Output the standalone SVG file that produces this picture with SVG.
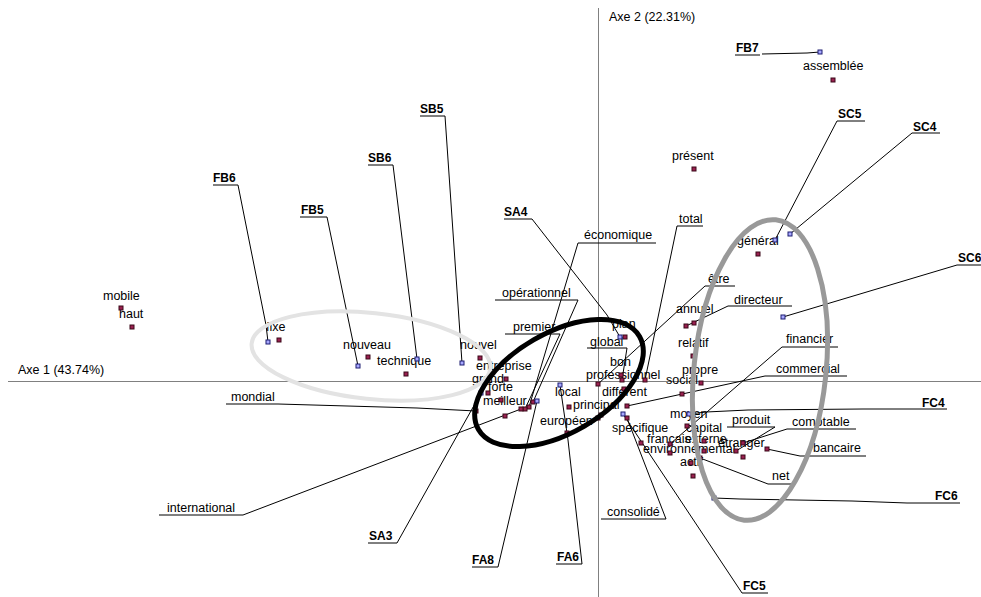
<svg xmlns="http://www.w3.org/2000/svg" width="981" height="597" viewBox="0 0 981 597">
<style>
.t{font-family:"Liberation Sans",Arial,sans-serif;font-size:12.5px;fill:#000}
.b{font-family:"Liberation Sans",Arial,sans-serif;font-size:12px;font-weight:bold;fill:#000}
.l{stroke:#000;stroke-width:1;fill:none}
.u{stroke:#000;stroke-width:1}
.ax{stroke:#808080;stroke-width:1}
.p{fill:#9a2050;stroke:#3a0818;stroke-width:1}
.c{fill:#a8a8ff;stroke:#1c1c70;stroke-width:1}
</style>
<defs>
<rect id="pw" class="p" x="-2" y="-2" width="4" height="4"/>
<rect id="pc" class="c" x="-2" y="-2" width="4" height="4"/>
</defs>
<rect width="981" height="597" fill="#fff"/>
<g id="axes">
<line class="ax" x1="8" y1="381.5" x2="981" y2="381.5"/>
<line class="ax" x1="598.5" y1="8" x2="598.5" y2="597"/>
<text class="t" x="18" y="374">Axe 1 (43.74%)</text>
<text class="t" x="609" y="21">Axe 2 (22.31%)</text>
</g>
<g id="labels">
<text class="t" x="103" y="300">mobile</text>
<text class="t" x="119" y="318">haut</text>
<text class="t" x="266" y="331">fixe</text>
<text class="t" x="343" y="349">nouveau</text>
<text class="t" x="377" y="365">technique</text>
<text class="t" x="460" y="349">nouvel</text>
<text class="t" x="476" y="370">entreprise</text>
<text class="t" x="472" y="383">grand</text>
<text class="t" x="488" y="391">forte</text>
<text class="t" x="483" y="405">meilleur</text>
<text class="t" x="555" y="396">local</text>
<text class="t" x="573" y="409">principal</text>
<text class="t" x="540" y="425">européen</text>
<text class="t" x="612" y="328">plan</text>
<text class="t" x="610" y="366">bon</text>
<text class="t" x="586" y="379">professionnel</text>
<text class="t" x="602" y="396">différent</text>
<text class="t" x="612" y="432">spécifique</text>
<text class="t" x="672" y="160">présent</text>
<text class="t" x="803" y="70">assemblée</text>
<text class="t" x="737" y="245">général</text>
<text class="t" x="676" y="313">annuel</text>
<text class="t" x="678" y="347">relatif</text>
<text class="t" x="682" y="374">propre</text>
<text class="t" x="666" y="384">social</text>
<text class="t" x="670" y="418">moyen</text>
<text class="t" x="686" y="432">capital</text>
<text class="t" x="647" y="443">français</text>
<text class="t" x="685" y="443">externe</text>
<text class="t" x="718" y="447">étranger</text>
<text class="t" x="643" y="453">environnemental</text>
<text class="t" x="680" y="466">actif</text>
<text class="t" x="584" y="239">économique</text>
<text class="t" x="502" y="297">opérationnel</text>
<text class="t" x="513" y="331">premier</text>
<text class="t" x="590" y="346">global</text>
<text class="t" x="679" y="223">total</text>
<text class="t" x="708" y="283">être</text>
<text class="t" x="734" y="304">directeur</text>
<text class="t" x="786" y="343">financier</text>
<text class="t" x="776" y="373">commercial</text>
<text class="t" x="732" y="424">produit</text>
<text class="t" x="792" y="426">comptable</text>
<text class="t" x="813" y="452">bancaire</text>
<text class="t" x="772" y="480">net</text>
<text class="t" x="607" y="516">consolidé</text>
<text class="t" x="231" y="401">mondial</text>
<text class="t" x="167" y="512">international</text>
<text class="b" x="213" y="182">FB6</text>
<text class="b" x="301" y="214">FB5</text>
<text class="b" x="368" y="162">SB6</text>
<text class="b" x="420" y="113">SB5</text>
<text class="b" x="504" y="216">SA4</text>
<text class="b" x="369" y="540">SA3</text>
<text class="b" x="472" y="564">FA8</text>
<text class="b" x="557" y="561">FA6</text>
<text class="b" x="736" y="52">FB7</text>
<text class="b" x="838" y="118">SC5</text>
<text class="b" x="913" y="131">SC4</text>
<text class="b" x="958" y="262">SC6</text>
<text class="b" x="922" y="407">FC4</text>
<text class="b" x="935" y="500">FC6</text>
<text class="b" x="743" y="590">FC5</text>
</g>
<g id="connectors">
<path class="l" d="M578 243H656M578 243L529 407"/>
<path class="l" d="M495 300H578L533 402"/>
<path class="l" d="M505 334H560L525 409"/>
<path class="l" d="M587 348H627L622 380"/>
<path class="l" d="M703 226H677L645 380"/>
<path class="l" d="M735 286H705L598 384"/>
<path class="l" d="M792 306H728L686 326"/>
<path class="l" d="M838 347H782L670 444"/>
<path class="l" d="M847 376H765L627 406"/>
<path class="l" d="M727 427H775L736 451"/>
<path class="l" d="M856 429H787L743 443"/>
<path class="l" d="M866 456H800L767 449"/>
<path class="l" d="M793 484H768L700 458"/>
<path class="l" d="M601 519H666L627 418"/>
<path class="l" d="M226 404H278L417 408L476 411"/>
<path class="l" d="M159 515H243L521 409"/>
<path class="l" d="M213 185H238L266 325L268 342"/>
<path class="l" d="M300 217H327L358 366"/>
<path class="l" d="M368 165H393L417 359"/>
<path class="l" d="M420 116H445L462 363"/>
<path class="l" d="M504 219H532L607 315L620 337"/>
<path class="l" d="M368 543H397L481 393"/>
<path class="l" d="M472 567H498L537 401"/>
<path class="l" d="M556 564H582L568 440L560 385"/>
<path class="l" d="M735 55H760M762 54L807 53L820 52"/>
<path class="l" d="M865 121H837L775 240"/>
<path class="l" d="M940 133H912L790 234"/>
<path class="l" d="M981 265H957L783 317"/>
<path class="l" d="M947 409H863L748 410L706 412L689 414"/>
<path class="l" d="M960 503H907L852 501L740 499L714 498"/>
<path class="l" d="M768 593H742L623 414"/>
</g>
<g id="words">
<use href="#pw" x="121" y="308"/><use href="#pw" x="132" y="327"/><use href="#pw" x="279" y="340"/>
<use href="#pw" x="368" y="357"/><use href="#pw" x="406" y="374"/><use href="#pw" x="480" y="358"/>
<use href="#pw" x="506" y="379"/><use href="#pw" x="488" y="393"/><use href="#pw" x="501" y="400"/>
<use href="#pw" x="505" y="416"/><use href="#pw" x="569" y="407"/><use href="#pw" x="598" y="418"/>
<use href="#pw" x="601" y="415"/><use href="#pw" x="567" y="433"/><use href="#pw" x="625" y="337"/>
<use href="#pw" x="621" y="375"/><use href="#pw" x="624" y="389"/><use href="#pw" x="627" y="406"/>
<use href="#pw" x="641" y="443"/><use href="#pw" x="694" y="169"/><use href="#pw" x="833" y="80"/>
<use href="#pw" x="758" y="254"/><use href="#pw" x="694" y="323"/><use href="#pw" x="693" y="356"/>
<use href="#pw" x="701" y="383"/><use href="#pw" x="682" y="394"/><use href="#pw" x="687" y="426"/>
<use href="#pw" x="704" y="441"/><use href="#pw" x="670" y="453"/><use href="#pw" x="704" y="451"/>
<use href="#pw" x="743" y="457"/><use href="#pw" x="691" y="463"/><use href="#pw" x="693" y="476"/>
<use href="#pw" x="529" y="407"/><use href="#pw" x="533" y="402"/><use href="#pw" x="525" y="409"/>
<use href="#pw" x="622" y="380"/><use href="#pw" x="645" y="380"/><use href="#pw" x="598" y="384"/>
<use href="#pw" x="686" y="326"/><use href="#pw" x="670" y="444"/><use href="#pw" x="736" y="451"/>
<use href="#pw" x="743" y="443"/><use href="#pw" x="767" y="449"/><use href="#pw" x="700" y="458"/>
<use href="#pw" x="627" y="418"/><use href="#pw" x="476" y="411"/><use href="#pw" x="521" y="409"/>
</g>
<g id="categories">
<use href="#pc" x="268" y="342"/><use href="#pc" x="358" y="366"/><use href="#pc" x="417" y="359"/>
<use href="#pc" x="462" y="363"/><use href="#pc" x="620" y="337"/><use href="#pc" x="481" y="393"/>
<use href="#pc" x="537" y="401"/><use href="#pc" x="560" y="385"/><use href="#pc" x="820" y="52"/>
<use href="#pc" x="775" y="240"/><use href="#pc" x="790" y="234"/><use href="#pc" x="783" y="317"/>
<use href="#pc" x="689" y="414"/><use href="#pc" x="714" y="498"/><use href="#pc" x="623" y="414"/>
</g>
<g id="ellipses" fill="none">
<ellipse cx="371" cy="356" rx="120" ry="43" transform="rotate(6 371 356)" stroke="#e3e3e3" stroke-width="4"/>
<ellipse cx="559" cy="383" rx="93" ry="50" transform="rotate(-30 559 383)" stroke="#000" stroke-width="5"/>
<ellipse cx="760" cy="370" rx="66" ry="151" transform="rotate(6 760 370)" stroke="#999" stroke-width="5"/>
</g>
</svg>
